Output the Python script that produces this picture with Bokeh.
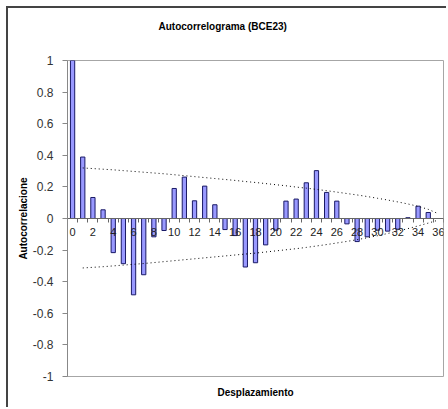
from bokeh.plotting import figure
from bokeh.models import Range1d, FixedTicker, Title
from bokeh.embed import file_html
from bokeh.resources import INLINE

# ---- data ----
lags = list(range(0, 36))
acf = [1.0, 0.389, 0.133, 0.055, -0.216, -0.286, -0.483, -0.356, -0.116, -0.076,
       0.190, 0.262, 0.112, 0.205, 0.087, -0.070, -0.108, -0.307, -0.280, -0.167,
       -0.074, 0.110, 0.123, 0.226, 0.303, 0.165, 0.110, -0.034, -0.146, -0.116,
       -0.074, -0.080, -0.068, 0.005, 0.078, 0.038]

band_lags = list(range(1, 37))
band_upper = [0.320, 0.316, 0.312, 0.308, 0.303, 0.298, 0.293, 0.288, 0.283, 0.277,
              0.271, 0.265, 0.259, 0.253, 0.247, 0.241, 0.234, 0.228, 0.221, 0.214,
              0.207, 0.199, 0.192, 0.184, 0.176, 0.167, 0.158, 0.149, 0.139, 0.128,
              0.117, 0.105, 0.092, 0.077, 0.058, 0.030]
band_lower = [-0.313, -0.309, -0.305, -0.300, -0.295, -0.290, -0.285, -0.279, -0.273, -0.267,
              -0.261, -0.255, -0.249, -0.243, -0.237, -0.231, -0.225, -0.219, -0.212, -0.205,
              -0.198, -0.191, -0.183, -0.174, -0.165, -0.155, -0.145, -0.134, -0.122, -0.109,
              -0.095, -0.080, -0.064, -0.047, -0.029, -0.010]

x_ticks = list(range(0, 37, 2))
x_minor = [k - 0.5 for k in range(0, 38)]
y_ticks = [-1, -0.8, -0.6, -0.4, -0.2, 0, 0.2, 0.4, 0.6, 0.8, 1]
y_tick_labels = ["-1", "-0.8", "-0.6", "-0.4", "-0.2", "0", "0.2", "0.4", "0.6", "0.8", "1"]

title_text = "Autocorrelograma (BCE23)"
x_title = "Desplazamiento"
y_title = "Autocorrelacione"

FONT = "Liberation Sans"

p = figure(width=440, height=401, output_backend="svg", toolbar_location=None,
           x_range=Range1d(-0.5, 36.5), y_range=Range1d(-1, 1),
           min_border_left=59, min_border_right=5, min_border_top=52, min_border_bottom=33)
p.styles = {"margin-left": "6px", "margin-top": "6px",
            "border-left": "2px solid #444444", "border-top": "2px solid #444444"}

p.background_fill_color = "white"
p.border_fill_color = "white"
p.outline_line_color = "#a6a6a6"
p.xgrid.visible = False
p.ygrid.visible = False

p.vbar(x=lags, top=acf, bottom=0, width=0.42, fill_color="#9999ff",
       line_color="#1a1a66", line_width=1)
p.line(band_lags, band_upper, line_color="black", line_dash="1 3", line_width=1)
p.line(band_lags, band_lower, line_color="black", line_dash="1 3", line_width=1)

# x axis crossing at zero
xa = p.xaxis[0]
xa.fixed_location = 0
xa.ticker = FixedTicker(ticks=x_ticks, minor_ticks=x_minor)
xa.axis_line_color = "#666666"
xa.major_tick_line_color = None
xa.major_tick_out = 4
xa.major_tick_in = 0
xa.minor_tick_line_color = "#666666"
xa.minor_tick_out = 4
xa.minor_tick_in = 0
xa.major_label_standoff = 5
xa.major_label_text_font = FONT
xa.major_label_text_font_size = "11px"
xa.major_label_text_color = "#222222"

ya = p.yaxis[0]
ya.ticker = FixedTicker(ticks=y_ticks, minor_ticks=[])
ya.major_label_overrides = dict(zip(y_ticks, y_tick_labels))
ya.axis_line_color = "#888888"
ya.major_tick_line_color = "#888888"
ya.major_tick_out = 5
ya.major_tick_in = 0
ya.minor_tick_line_color = None
ya.major_label_standoff = 9
ya.major_label_text_font = FONT
ya.major_label_text_font_size = "12px"
ya.major_label_text_color = "#333333"
ya.axis_label = y_title
ya.axis_label_text_font = FONT
ya.axis_label_text_font_size = "10px"
ya.axis_label_text_font_style = "bold"
ya.axis_label_text_color = "black"
ya.axis_label_standoff = 1

# spacer (nearest the plot area) and chart title above it
p.add_layout(Title(text=" ", standoff=16, text_font=FONT, text_font_size="10px"), "above")
p.add_layout(Title(text=title_text, align="left", offset=91, standoff=0,
                   text_font=FONT, text_font_size="10px", text_font_style="bold",
                   text_color="black"), "above")
p.add_layout(Title(text=x_title, align="center", standoff=16,
                   text_font=FONT, text_font_size="10px", text_font_style="bold",
                   text_color="black"), "below")

open("out.html", "w").write(file_html(p, INLINE))
